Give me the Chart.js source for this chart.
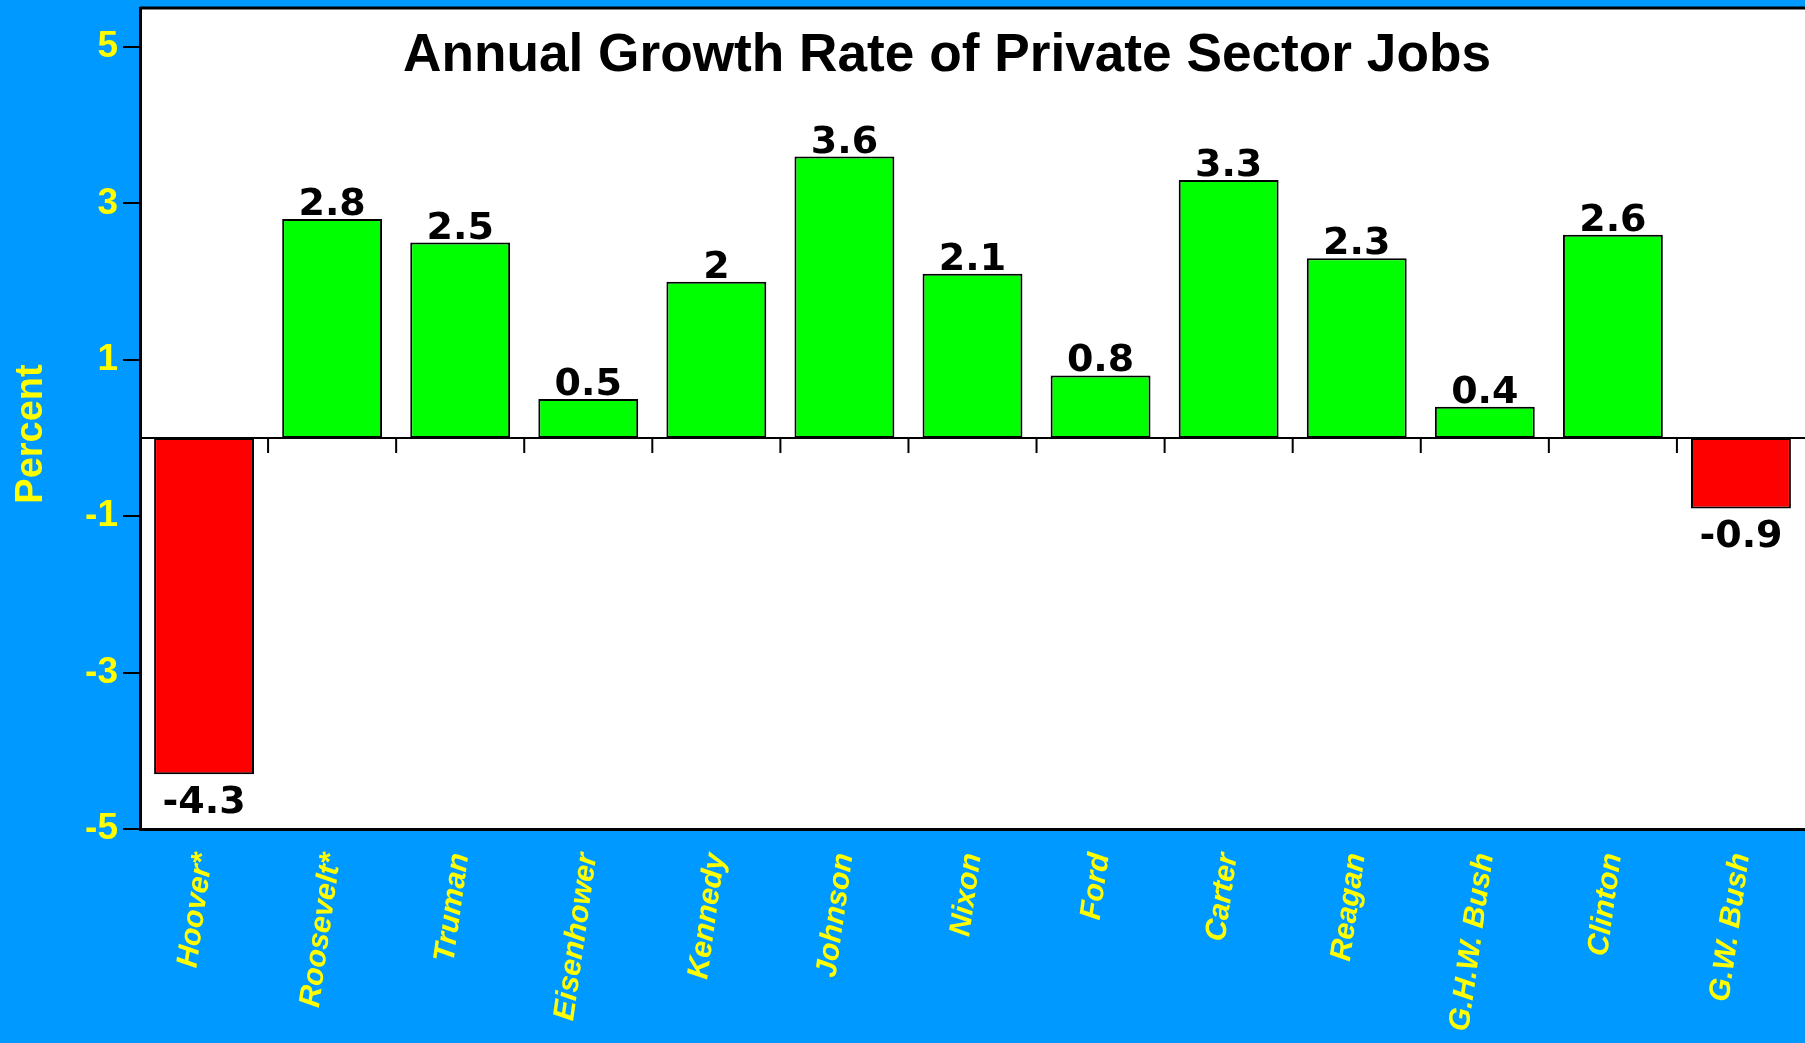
<!DOCTYPE html>
<html>
<head>
<meta charset="utf-8">
<script src="https://cdn.jsdelivr.net/npm/chart.js@4.4.1/dist/chart.umd.min.js"></script>
<style>
  html, body { margin: 0; padding: 0; background: #0099ff; }
  #wrap { width: 1805px; height: 1043px; }
</style>
</head>
<body>
<div id="wrap"><canvas id="jobs"></canvas></div>
<script>
const presidents = ['Hoover*', 'Roosevelt*', 'Truman', 'Eisenhower', 'Kennedy', 'Johnson', 'Nixon',
                    'Ford', 'Carter', 'Reagan', 'G.H.W. Bush', 'Clinton', 'G.W. Bush'];
const growthRates = [-4.3, 2.8, 2.5, 0.5, 2, 3.6, 2.1, 0.8, 3.3, 2.3, 0.4, 2.6, -0.9];
const yTicks = [-5, -3, -1, 1, 3, 5];
const chartTitle = 'Annual Growth Rate of Private Sector Jobs';
const yTitle = 'Percent';

const SANS = '"Liberation Sans", Arial, sans-serif';

// white plot box, zero line with category ticks, value labels, titles
const frame = {
    id: 'frame',
    beforeDraw(chart) {
        const { ctx, chartArea: a } = chart;
        ctx.save();
        ctx.fillStyle = '#ffffff';
        ctx.fillRect(a.left, a.top, a.right - a.left, a.bottom - a.top);
        ctx.strokeStyle = '#000000';
        ctx.lineWidth = 3;
        ctx.beginPath();
        ctx.moveTo(a.left, a.top);
        ctx.lineTo(a.right, a.top);
        ctx.stroke();
        ctx.restore();
    },
    beforeDatasetsDraw(chart) {
        const { ctx, chartArea: a, scales: { x, y } } = chart;
        const y0 = y.getPixelForValue(0);
        ctx.save();
        ctx.strokeStyle = '#000000';
        ctx.lineWidth = 2;
        ctx.beginPath();
        ctx.moveTo(a.left, y0);
        ctx.lineTo(a.right, y0);
        for (let i = 1; i < presidents.length; i++) {
            const xb = (x.getPixelForValue(i - 1) + x.getPixelForValue(i)) / 2;
            ctx.moveTo(xb, y0);
            ctx.lineTo(xb, y0 + 15);
        }
        ctx.stroke();
        ctx.restore();
    },
    afterDatasetsDraw(chart) {
        const { ctx } = chart;
        const bars = chart.getDatasetMeta(0).data;
        ctx.save();
        ctx.fillStyle = '#000000';
        ctx.font = 'bold 38px "DejaVu Sans", sans-serif';
        ctx.textAlign = 'center';
        ctx.textBaseline = 'alphabetic';
        bars.forEach((bar, i) => {
            const v = growthRates[i];
            const ty = v >= 0 ? bar.y - 4 : bar.y + 39;
            ctx.fillText(String(v), bar.x, ty);
        });
        ctx.restore();
    },
    afterDraw(chart) {
        const { ctx } = chart;
        ctx.save();
        ctx.fillStyle = '#000000';
        ctx.font = 'bold 54px ' + SANS;
        ctx.textBaseline = 'alphabetic';
        ctx.textAlign = 'center';
        // the heading is set in a narrow face, so squeeze it sideways
        const sx = 1088 / ctx.measureText(chartTitle).width;
        ctx.translate(947, 71);
        ctx.scale(sx, 1);
        ctx.fillText(chartTitle, 0, 0);
        ctx.restore();

        ctx.save();
        ctx.fillStyle = '#ffff00';
        ctx.font = 'bold 38px ' + SANS;
        ctx.textAlign = 'center';
        ctx.textBaseline = 'alphabetic';
        ctx.translate(42, 434);
        ctx.rotate(-Math.PI / 2);
        ctx.fillText(yTitle, 0, 0);
        ctx.restore();
    }
};

new Chart(document.getElementById('jobs'), {
    type: 'bar',
    data: {
        labels: presidents,
        datasets: [{
            data: growthRates,
            backgroundColor: growthRates.map(v => v < 0 ? '#ff0000' : '#00ff00'),
            borderColor: '#000000',
            borderWidth: 2,
            borderSkipped: false,
            barPercentage: 0.78,
            categoryPercentage: 1
        }]
    },
    options: {
        responsive: true,
        maintainAspectRatio: false,
        animation: false,
        layout: { padding: { top: 8, left: 0, right: 0, bottom: 0 } },
        plugins: {
            legend: { display: false },
            tooltip: { enabled: false },
            title: { display: false }
        },
        scales: {
            x: {
                grid: { display: false },
                border: { display: true, color: '#000000', width: 3 },
                ticks: {
                    color: '#ffff00',
                    font: { family: SANS, size: 30, weight: 'bold', style: 'italic' },
                    minRotation: 82,
                    maxRotation: 82,
                    padding: 14,
                    autoSkip: false
                },
                afterFit(s) {
                    s.height = 214;
                    s.paddingLeft = 0;
                    s.paddingRight = 0;
                }
            },
            y: {
                min: -5,
                max: 5.5,
                afterBuildTicks(s) { s.ticks = yTicks.map(v => ({ value: v })); },
                grid: { drawOnChartArea: false, drawTicks: true, tickLength: 17, color: '#000000', lineWidth: 2 },
                border: { display: true, color: '#000000', width: 3 },
                ticks: {
                    color: '#ffff00',
                    padding: 5,
                    font: { family: SANS, size: 37, weight: 'bold' }
                },
                afterFit(s) {
                    s.width = 140;
                    s.paddingTop = 0;
                    s.paddingBottom = 0;
                }
            }
        }
    },
    plugins: [frame]
});
</script>
</body>
</html>
